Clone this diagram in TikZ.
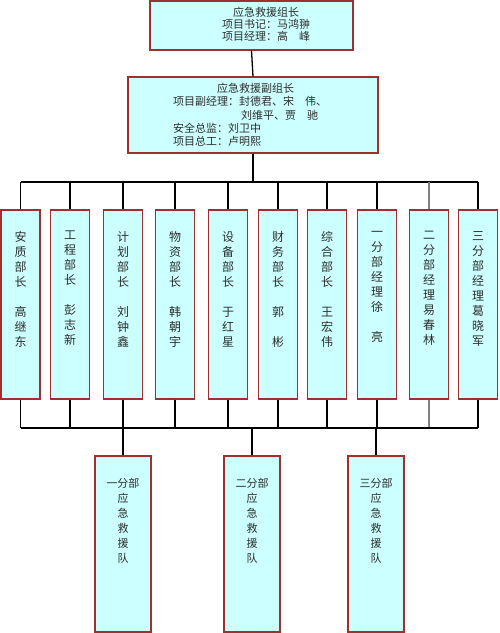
\documentclass[tikz,border=0pt]{standalone}
\usepackage{fontspec}
\setmainfont{Noto Sans CJK SC}
\definecolor{boxred}{RGB}{160,48,48}
\definecolor{boxfill}{RGB}{204,255,255}
\definecolor{txt}{RGB}{45,45,45}
\begin{document}
\begin{tikzpicture}[x=1pt,y=-1pt,
  box/.style={draw=boxred, fill=boxfill, line width=1.2pt, inner sep=0pt},
  dept/.style={box, minimum width=39pt, minimum height=189pt},
  team/.style={box, minimum width=56pt, minimum height=176pt},
  vtext/.style={anchor=north, inner sep=0pt, align=center, text=txt, font=\fontsize{12}{15}\selectfont},
  ttext/.style={anchor=north, inner sep=0pt, align=center, text=txt, font=\fontsize{11}{15}\selectfont},
  htext/.style={inner sep=0pt, text=txt, font=\fontsize{11}{12}\selectfont},
  conn/.style={line width=1.3pt, black},
  conng/.style={line width=1.3pt, gray}]
\useasboundingbox (0,0) rectangle (500,633);

% top boxes
\node[box, minimum width=203pt, minimum height=49pt] (t) at (251.5,25.5) {};
\node[htext, align=center] (tt) at (266,24) {应急救援组长\\项目书记：马鸿翀\\项目经理：高　峰};
\node[box, minimum width=250pt, minimum height=76pt] (d) at (253,115) {};
\node[htext, anchor=north west, align=left, font=\fontsize{11}{13.25}\selectfont] (dt) at (173,83)
  {\hspace{44pt}应急救援副组长\\项目副经理：封德君、宋　伟、\\\hspace{68pt}刘维平、贾　驰\\安全总监：刘卫中\\项目总工：卢明熙};

% departments
\node[dept] (d1) at (20.5,304.5) {};
\node[dept] (d2) at (70,304.5) {};
\node[dept] (d3) at (123,304.5) {};
\node[dept] (d4) at (175,304.5) {};
\node[dept] (d5) at (228,304.5) {};
\node[dept] (d6) at (278,304.5) {};
\node[dept] (d7) at (327,304.5) {};
\node[dept] (d8) at (377,304.5) {};
\node[dept] (d9) at (429,304.5) {};
\node[dept] (d10) at (478,304.5) {};

\node[vtext] (d1t) at (20.5,231) {安\\质\\部\\长\\[15pt]高\\继\\东};
\node[vtext] (d2t) at (70,231) {工\\程\\部\\长\\[15pt]彭\\志\\新};
\node[vtext] (d3t) at (123,231) {计\\划\\部\\长\\[15pt]刘\\钟\\鑫};
\node[vtext] (d4t) at (175,231) {物\\资\\部\\长\\[15pt]韩\\朝\\宇};
\node[vtext] (d5t) at (228,231) {设\\备\\部\\长\\[15pt]于\\红\\星};
\node[vtext] (d6t) at (278,231) {财\\务\\部\\长\\[15pt]郭\\[15pt]彬};
\node[vtext] (d7t) at (327,231) {综\\合\\部\\长\\[15pt]王\\宏\\伟};
\node[vtext] (d8t) at (377,231) {一\\分\\部\\经\\理\\徐\\[15pt]亮};
\node[vtext] (d9t) at (429,231) {二\\分\\部\\经\\理\\易\\春\\林};
\node[vtext] (d10t) at (478,231) {三\\分\\部\\经\\理\\葛\\晓\\军};

% teams
\node[team] (r1) at (123,544) {};
\node[team] (r2) at (252,544) {};
\node[team] (r3) at (376,544) {};
\node[ttext] (r1t) at (123,478) {一分部\\应\\急\\救\\援\\队};
\node[ttext] (r2t) at (252,478) {二分部\\应\\急\\救\\援\\队};
\node[ttext] (r3t) at (376,478) {三分部\\应\\急\\救\\援\\队};

% bus coordinates
\coordinate (busU) at (253,182);
\coordinate (busL) at (20.5,428);

% connectors
\draw[conn] (t.south) -- (d.north);
\draw[conn] (d.south) -- (busU);
\draw[conn] (d1.north |- busU) -- (d10.north |- busU);
\foreach \k in {1,2,3,4,5,6,7,8,10} {
  \draw[conn] (d\k.north |- busU) -- (d\k.north);
  \draw[conn] (d\k.south) -- (d\k.south |- busL);
}
\draw[conng] (d9.north |- busU) -- (d9.north);
\draw[conng] (d9.south) -- (d9.south |- busL);
\draw[conn] (d1.south |- busL) -- (d10.south |- busL);
\draw[conn] (r1.north |- busL) -- (r1.north);
\draw[conn] (r2.north |- busL) -- (r2.north);
\draw[conn] (r3.north |- busL) -- (r3.north);
\end{tikzpicture}
\end{document}
